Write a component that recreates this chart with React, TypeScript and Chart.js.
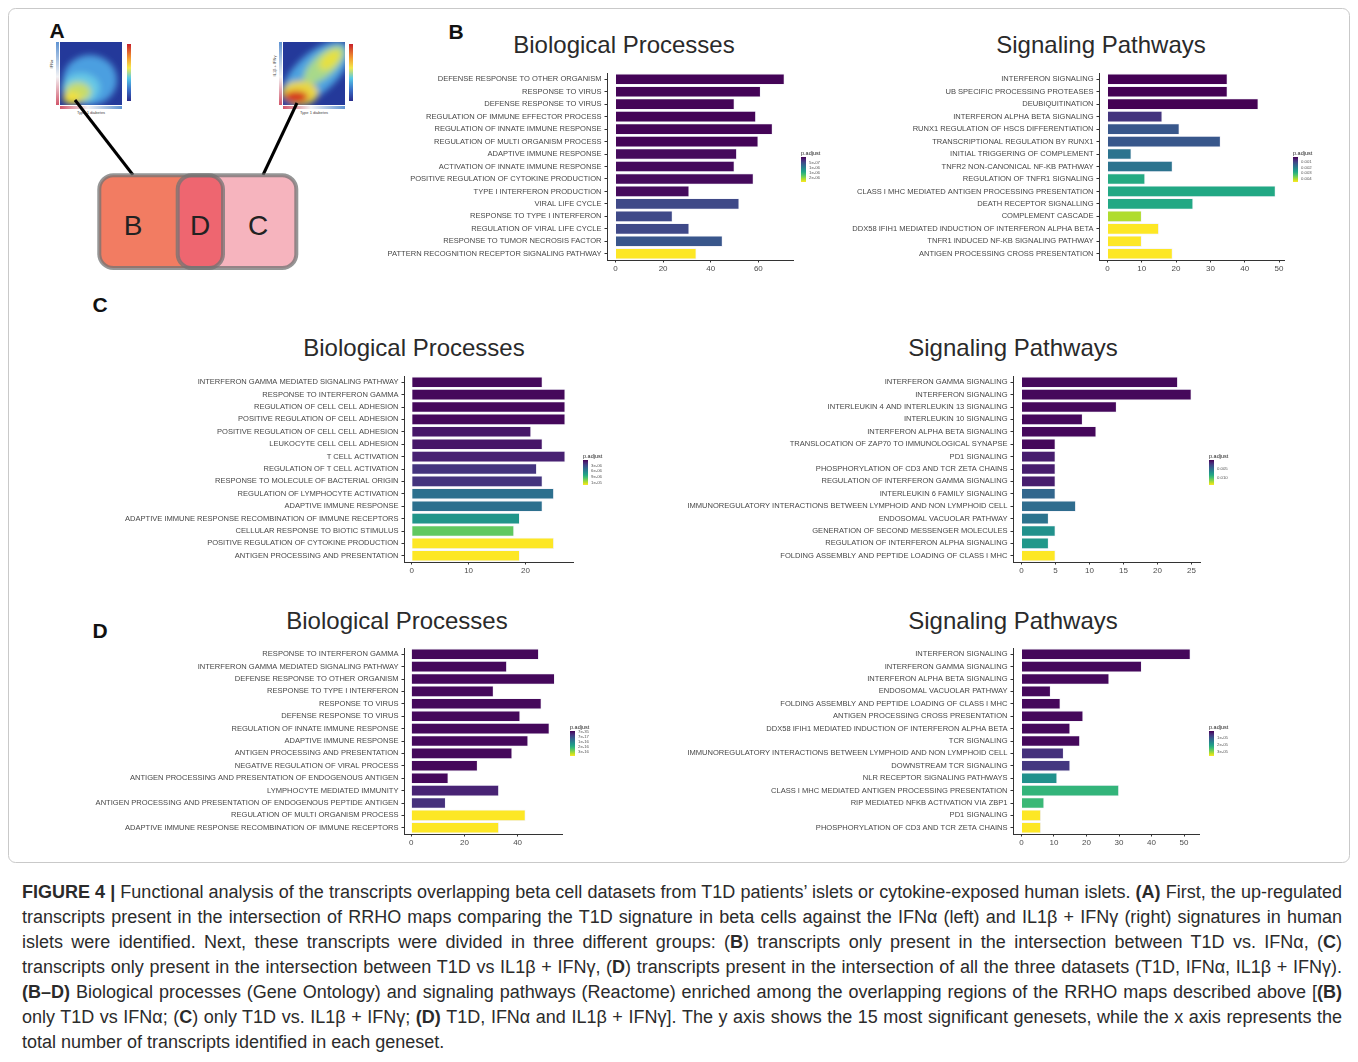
import React, { useEffect, useRef } from "react";
import { Chart, registerables } from "chart.js";
Chart.register(...registerables);

const FONT = "'Liberation Sans', Arial, Helvetica, sans-serif";

// ---------- Panel B : T1D vs IFNa only ----------
const bBpLabels = [
  "DEFENSE RESPONSE TO OTHER ORGANISM",
  "RESPONSE TO VIRUS",
  "DEFENSE RESPONSE TO VIRUS",
  "REGULATION OF IMMUNE EFFECTOR PROCESS",
  "REGULATION OF INNATE IMMUNE RESPONSE",
  "REGULATION OF MULTI ORGANISM PROCESS",
  "ADAPTIVE IMMUNE RESPONSE",
  "ACTIVATION OF INNATE IMMUNE RESPONSE",
  "POSITIVE REGULATION OF CYTOKINE PRODUCTION",
  "TYPE I INTERFERON PRODUCTION",
  "VIRAL LIFE CYCLE",
  "RESPONSE TO TYPE I INTERFERON",
  "REGULATION OF VIRAL LIFE CYCLE",
  "RESPONSE TO TUMOR NECROSIS FACTOR",
  "PATTERN RECOGNITION RECEPTOR SIGNALING PATHWAY",
];
const bBpCounts = [71, 61, 50, 59, 66, 60, 51, 50, 58, 31, 52, 24, 31, 45, 34];
const bBpPadj = [2e-8, 2e-8, 2e-8, 2e-8, 2e-8, 2e-8, 6e-8, 6e-8, 6e-8, 6e-8, 5.2e-7, 5.2e-7, 5.2e-7, 6.4e-7, 2.4e-6];
const bBpDomain = [0, 2.4e-6];
const bBpLegendVals = [5e-7, 1e-6, 1.5e-6, 2e-6];
const bBpLegendText = ["5e-07", "1e-06", "1e-06", "2e-06"];
const bBpTicks = [0, 20, 40, 60];

const bSpLabels = [
  "INTERFERON SIGNALING",
  "UB SPECIFIC PROCESSING PROTEASES",
  "DEUBIQUITINATION",
  "INTERFERON ALPHA BETA SIGNALING",
  "RUNX1 REGULATION OF HSCS DIFFERENTIATION",
  "TRANSCRIPTIONAL REGULATION BY RUNX1",
  "INITIAL TRIGGERING OF COMPLEMENT",
  "TNFR2 NON-CANONICAL NF-KB PATHWAY",
  "REGULATION OF TNFR1 SIGNALING",
  "CLASS I MHC MEDIATED ANTIGEN PROCESSING PRESENTATION",
  "DEATH RECEPTOR SIGNALLING",
  "COMPLEMENT CASCADE",
  "DDX58 IFIH1 MEDIATED INDUCTION OF INTERFERON ALPHA BETA",
  "TNFR1 INDUCED NF-KB SIGNALING PATHWAY",
  "ANTIGEN PROCESSING CROSS PRESENTATION",
];
const bSpCounts = [35, 35, 44, 16, 21, 33, 7, 19, 11, 49, 25, 10, 15, 10, 19];
const bSpPadj = [1e-4, 1e-4, 1e-4, 8e-4, 1.35e-3, 1.35e-3, 1.85e-3, 1.85e-3, 2.9e-3, 2.85e-3, 2.85e-3, 4.15e-3, 4.7e-3, 4.7e-3, 4.7e-3];
const bSpDomain = [1e-4, 4.7e-3];
const bSpLegendVals = [0.001, 0.002, 0.003, 0.004];
const bSpLegendText = ["0.001", "0.002", "0.003", "0.004"];
const bSpTicks = [0, 10, 20, 30, 40, 50];

// ---------- Panel C : T1D vs IL1b + IFNg only ----------
const cBpLabels = [
  "INTERFERON GAMMA MEDIATED SIGNALING PATHWAY",
  "RESPONSE TO INTERFERON GAMMA",
  "REGULATION OF CELL CELL ADHESION",
  "POSITIVE REGULATION OF CELL ADHESION",
  "POSITIVE REGULATION OF CELL CELL ADHESION",
  "LEUKOCYTE CELL CELL ADHESION",
  "T CELL ACTIVATION",
  "REGULATION OF T CELL ACTIVATION",
  "RESPONSE TO MOLECULE OF BACTERIAL ORIGIN",
  "REGULATION OF LYMPHOCYTE ACTIVATION",
  "ADAPTIVE IMMUNE RESPONSE",
  "ADAPTIVE IMMUNE RESPONSE RECOMBINATION OF IMMUNE RECEPTORS",
  "CELLULAR RESPONSE TO BIOTIC STIMULUS",
  "POSITIVE REGULATION OF CYTOKINE PRODUCTION",
  "ANTIGEN PROCESSING AND PRESENTATION",
];
const cBpCounts = [23, 27, 27, 27, 21, 23, 27, 22, 23, 25, 23, 19, 18, 25, 19];
const cBpPadj = [4.7e-7, 4.7e-7, 4.7e-7, 4.7e-7, 1.0e-6, 1.0e-6, 1.4e-6, 2.2e-6, 2.2e-6, 5.1e-6, 5.1e-6, 7.1e-6, 1.02e-5, 1.35e-5, 1.35e-5];
const cBpDomain = [2e-7, 1.35e-5];
const cBpLegendVals = [3e-6, 6e-6, 9e-6, 1.2e-5];
const cBpLegendText = ["3e-06", "6e-06", "9e-06", "1e-05"];
const cBpTicks = [0, 10, 20];

const cSpLabels = [
  "INTERFERON GAMMA SIGNALING",
  "INTERFERON SIGNALING",
  "INTERLEUKIN 4 AND INTERLEUKIN 13 SIGNALING",
  "INTERLEUKIN 10 SIGNALING",
  "INTERFERON ALPHA BETA SIGNALING",
  "TRANSLOCATION OF ZAP70 TO IMMUNOLOGICAL SYNAPSE",
  "PD1 SIGNALING",
  "PHOSPHORYLATION OF CD3 AND TCR ZETA CHAINS",
  "REGULATION OF INTERFERON GAMMA SIGNALING",
  "INTERLEUKIN 6 FAMILY SIGNALING",
  "IMMUNOREGULATORY INTERACTIONS BETWEEN LYMPHOID AND NON LYMPHOID CELL",
  "ENDOSOMAL VACUOLAR PATHWAY",
  "GENERATION OF SECOND MESSENGER MOLECULES",
  "REGULATION OF INTERFERON ALPHA SIGNALING",
  "FOLDING ASSEMBLY AND PEPTIDE LOADING OF CLASS I MHC",
];
const cSpCounts = [23, 25, 14, 9, 11, 5, 5, 5, 5, 5, 8, 4, 5, 4, 5];
const cSpPadj = [3.8e-4, 3.8e-4, 3.8e-4, 3.8e-4, 3.8e-4, 3.8e-4, 1.2e-3, 1.2e-3, 1.2e-3, 4.65e-3, 4.93e-3, 5.34e-3, 7.0e-3, 7.4e-3, 1.39e-2];
const cSpDomain = [1e-4, 1.39e-2];
const cSpLegendVals = [0.005, 0.01];
const cSpLegendText = ["0.005", "0.010"];
const cSpTicks = [0, 5, 10, 15, 20, 25];

// ---------- Panel D : intersection of all three ----------
const dBpLabels = [
  "RESPONSE TO INTERFERON GAMMA",
  "INTERFERON GAMMA MEDIATED SIGNALING PATHWAY",
  "DEFENSE RESPONSE TO OTHER ORGANISM",
  "RESPONSE TO TYPE I INTERFERON",
  "RESPONSE TO VIRUS",
  "DEFENSE RESPONSE TO VIRUS",
  "REGULATION OF INNATE IMMUNE RESPONSE",
  "ADAPTIVE IMMUNE RESPONSE",
  "ANTIGEN PROCESSING AND PRESENTATION",
  "NEGATIVE REGULATION OF VIRAL PROCESS",
  "ANTIGEN PROCESSING AND PRESENTATION OF ENDOGENOUS ANTIGEN",
  "LYMPHOCYTE MEDIATED IMMUNITY",
  "ANTIGEN PROCESSING AND PRESENTATION OF ENDOGENOUS PEPTIDE ANTIGEN",
  "REGULATION OF MULTI ORGANISM PROCESS",
  "ADAPTIVE IMMUNE RESPONSE RECOMBINATION OF IMMUNE RECEPTORS",
];
const dBpCounts = [48, 36, 54, 31, 49, 41, 52, 44, 38, 25, 14, 33, 13, 43, 33];
const dBpPadj = [7e-18, 7e-18, 7e-18, 7e-18, 7e-18, 7e-18, 7e-18, 7e-18, 7e-18, 7e-18, 7e-18, 3.4e-17, 4.8e-17, 3.5e-16, 3.5e-16];
const dBpDomain = [0, 3.5e-16];
const dBpLegendVals = [7e-35, 7e-17, 1.4e-16, 2.1e-16, 2.8e-16];
const dBpLegendText = ["7e-35", "7e-17", "1e-16", "2e-16", "3e-16"];
const dBpTicks = [0, 20, 40];

const dSpLabels = [
  "INTERFERON SIGNALING",
  "INTERFERON GAMMA SIGNALING",
  "INTERFERON ALPHA BETA SIGNALING",
  "ENDOSOMAL VACUOLAR PATHWAY",
  "FOLDING ASSEMBLY AND PEPTIDE LOADING OF CLASS I MHC",
  "ANTIGEN PROCESSING CROSS PRESENTATION",
  "DDX58 IFIH1 MEDIATED INDUCTION OF INTERFERON ALPHA BETA",
  "TCR SIGNALING",
  "IMMUNOREGULATORY INTERACTIONS BETWEEN LYMPHOID AND NON LYMPHOID CELL",
  "DOWNSTREAM TCR SIGNALING",
  "NLR RECEPTOR SIGNALING PATHWAYS",
  "CLASS I MHC MEDIATED ANTIGEN PROCESSING PRESENTATION",
  "RIP MEDIATED NFKB ACTIVATION VIA ZBP1",
  "PD1 SIGNALING",
  "PHOSPHORYLATION OF CD3 AND TCR ZETA CHAINS",
];
const dSpCounts = [52, 37, 27, 9, 12, 19, 15, 18, 13, 15, 11, 30, 7, 6, 6];
const dSpPadj = [7.2e-7, 7.2e-7, 7.2e-7, 7.2e-7, 7.2e-7, 7.2e-7, 7.2e-7, 7.2e-7, 5.0e-6, 5.8e-6, 1.8e-5, 2.34e-5, 2.41e-5, 3.6e-5, 3.6e-5];
const dSpDomain = [0, 3.6e-5];
const dSpLegendVals = [1e-5, 2e-5, 3e-5];
const dSpLegendText = ["1e-05", "2e-05", "3e-05"];
const dSpTicks = [0, 10, 20, 30, 40, 50];

// ---------- helpers ----------
const VIRIDIS = ["#440154", "#482475", "#414487", "#355f8d", "#2a788e", "#21918c", "#22a884", "#44bf70", "#7ad151", "#bddf26", "#fde725"];
function hex(h: string) {
  return [parseInt(h.slice(1, 3), 16), parseInt(h.slice(3, 5), 16), parseInt(h.slice(5, 7), 16)];
}
function viridis(t: number) {
  t = Math.max(0, Math.min(1, t));
  const x = t * 10;
  const i = Math.min(9, Math.floor(x));
  const f = x - i;
  const a = hex(VIRIDIS[i]);
  const b = hex(VIRIDIS[i + 1]);
  const c = a.map((v, k) => Math.round(v + (b[k] - v) * f));
  return `rgb(${c[0]},${c[1]},${c[2]})`;
}

type Geom = { axisX: number; plotRight: number; top: number; bottom: number; yW: number };
type PanelProps = {
  labels: string[];
  values: number[];
  padj: number[];
  domain: number[];
  ticks: number[];
  geom: Geom;
};

function BarPanel({ labels, values, padj, domain, ticks, geom }: PanelProps) {
  const ref = useRef<HTMLCanvasElement>(null);
  const padT = 10;
  const padR = 16;
  const xH = 22;
  const left = geom.axisX - geom.yW;
  const top = geom.top - padT;
  const width = geom.yW + (geom.plotRight - geom.axisX) + padR;
  const height = padT + (geom.bottom - geom.top) + xH;
  useEffect(() => {
    const max = Math.max(...values);
    const colors = padj.map((v) => viridis((v - domain[0]) / (domain[1] - domain[0])));
    const chart = new Chart(ref.current as HTMLCanvasElement, {
      type: "bar",
      data: {
        labels,
        datasets: [
          {
            data: values,
            backgroundColor: colors,
            borderColor: "rgba(225,225,240,0.55)",
            borderWidth: 0.8,
            barPercentage: 0.9,
            categoryPercentage: 1,
          },
        ],
      },
      options: {
        indexAxis: "y",
        responsive: false,
        animation: false,
        devicePixelRatio: 1,
        layout: { padding: { top: padT, right: padR, left: 0, bottom: 0 } },
        plugins: { legend: { display: false }, tooltip: { enabled: false }, title: { display: false } },
        scales: {
          x: {
            type: "linear",
            min: -0.05 * max,
            max: 1.05 * max,
            afterBuildTicks: (s: any) => {
              s.ticks = ticks.map((v) => ({ value: v }));
            },
            afterFit: (s: any) => {
              s.height = xH;
            },
            grid: { drawOnChartArea: false, drawTicks: true, tickLength: 2.5, color: "#333" },
            border: { display: true, color: "#333", width: 1 },
            ticks: { font: { family: FONT, size: 8 }, color: "#4d4d4d", padding: 1.5, maxRotation: 0 },
          },
          y: {
            type: "category",
            afterFit: (s: any) => {
              s.width = geom.yW;
            },
            grid: { drawOnChartArea: false, drawTicks: true, tickLength: 2.5, color: "#333", offset: false },
            border: { display: true, color: "#333", width: 1 },
            ticks: { autoSkip: false, font: { family: FONT, size: 7.55 }, color: "#474747", padding: 3 },
          },
        },
      },
    } as any);
    return () => chart.destroy();
  }, []);
  return (
    <canvas
      ref={ref}
      width={width}
      height={height}
      style={{ position: "absolute", left, top, width, height }}
    />
  );
}

function ColorLegend({ x, y, domain, vals, text }: { x: number; y: number; domain: number[]; vals: number[]; text: string[] }) {
  const h = 25;
  const stops = VIRIDIS.map((c, i) => `${c} ${i * 10}%`).join(",");
  return (
    <div style={{ position: "absolute", left: x, top: y - 7, fontFamily: FONT }}>
      <div style={{ fontSize: 5.5, color: "#222", lineHeight: "6px", whiteSpace: "nowrap" }}>p.adjust</div>
      <div style={{ position: "absolute", left: 0, top: 7, width: 5, height: h, background: `linear-gradient(to bottom, ${stops})` }} />
      {vals.map((v, i) => {
        const t = (v - domain[0]) / (domain[1] - domain[0]);
        return (
          <div
            key={i}
            style={{ position: "absolute", left: 8, top: 7 + t * h - 2.5, fontSize: 4.3, lineHeight: "5px", color: "#555", whiteSpace: "nowrap" }}
          >
            <span style={{ position: "absolute", left: -2.5, top: 2, width: 1.5, height: 0.6, background: "#fff" }} />
            {text[i]}
          </div>
        );
      })}
    </div>
  );
}

function Title({ x, y, text }: { x: number; y: number; text: string }) {
  return (
    <div
      style={{
        position: "absolute",
        left: x,
        top: y - 14,
        transform: "translateX(-50%)",
        fontFamily: FONT,
        fontSize: 24,
        lineHeight: "28px",
        color: "#2a2a2a",
        whiteSpace: "nowrap",
      }}
    >
      {text}
    </div>
  );
}

function PanelA() {
  return (
    <svg width={1358} height={1062} style={{ position: "absolute", left: 0, top: 0 }}>
      <defs>
        <filter id="bl" x="-30%" y="-30%" width="160%" height="160%">
          <feGaussianBlur stdDeviation="3.2" />
        </filter>
        <clipPath id="hm1">
          <rect x="60" y="42" width="62" height="63" />
        </clipPath>
        <clipPath id="hm2">
          <rect x="283" y="42" width="62" height="63" />
        </clipPath>
        <linearGradient id="cbar" x1="0" y1="0" x2="0" y2="1">
          <stop offset="0" stopColor="#c8202a" />
          <stop offset="0.25" stopColor="#f39c30" />
          <stop offset="0.42" stopColor="#f4e84a" />
          <stop offset="0.6" stopColor="#55c8e8" />
          <stop offset="0.8" stopColor="#3a70c8" />
          <stop offset="1" stopColor="#2a2d8c" />
        </linearGradient>
        <linearGradient id="vstrip" x1="0" y1="0" x2="0" y2="1">
          <stop offset="0" stopColor="#5f93d2" />
          <stop offset="0.55" stopColor="#f2f2f4" />
          <stop offset="1" stopColor="#d2566a" />
        </linearGradient>
        <linearGradient id="hstrip" x1="0" y1="0" x2="1" y2="0">
          <stop offset="0" stopColor="#d2566a" />
          <stop offset="0.45" stopColor="#f2f2f4" />
          <stop offset="1" stopColor="#5f93d2" />
        </linearGradient>
      </defs>

      {/* figure frame */}
      <rect x={8.5} y={8.5} width={1341} height={854} rx={7} fill="none" stroke="#c9c9c9" strokeWidth={1} />

      {/* panel letters */}
      <g fontFamily={FONT} fontWeight="bold" fontSize={21} fill="#111" textAnchor="middle">
        <text x={57} y={38}>A</text>
        <text x={456} y={39}>B</text>
        <text x={100} y={312}>C</text>
        <text x={100} y={638}>D</text>
      </g>

      {/* RRHO map 1 */}
      <g clipPath="url(#hm1)">
        <rect x="60" y="42" width="62" height="63" fill="#24399a" />
        <g filter="url(#bl)">
          <ellipse cx="90" cy="80" rx="27" ry="25" fill="#4c9fe0" />
          <ellipse cx="81" cy="88" rx="19" ry="15" fill="#66c8e6" />
          <ellipse cx="78" cy="92" rx="13" ry="10" fill="#c6dc6a" />
          <ellipse cx="72" cy="98" rx="9" ry="6" fill="#f2e03a" />
        </g>
      </g>
      <rect x="56" y="42" width="3" height="63" fill="url(#vstrip)" />
      <rect x="60" y="106" width="62" height="3" fill="url(#hstrip)" />
      <rect x="127" y="44" width="4" height="57" fill="url(#cbar)" />
      <text x="91" y="114" fontSize="4" fontFamily={FONT} fill="#444" textAnchor="middle">Type 1 diabetes</text>
      <text x="0" y="0" fontSize="4" fontFamily={FONT} fill="#444" textAnchor="middle" transform="translate(53,64) rotate(-90)">IFNα</text>

      {/* RRHO map 2 */}
      <g clipPath="url(#hm2)">
        <rect x="283" y="42" width="62" height="63" fill="#24399a" />
        <g filter="url(#bl)">
          <ellipse cx="316" cy="73" rx="42" ry="20" fill="#4ea3e0" transform="rotate(-42 316 73)" />
          <ellipse cx="324" cy="65" rx="26" ry="11" fill="#a8d98a" transform="rotate(-42 324 65)" />
          <ellipse cx="330" cy="60" rx="13" ry="7" fill="#e6e040" transform="rotate(-42 330 60)" />
          <ellipse cx="300" cy="93" rx="18" ry="12" fill="#e9d640" />
          <ellipse cx="296" cy="97" rx="12" ry="6" fill="#d42a1f" />
        </g>
      </g>
      <rect x="279" y="42" width="3" height="63" fill="url(#vstrip)" />
      <rect x="283" y="106" width="62" height="3" fill="url(#hstrip)" />
      <rect x="349" y="44" width="4" height="57" fill="url(#cbar)" />
      <text x="314" y="114" fontSize="4" fontFamily={FONT} fill="#444" textAnchor="middle">Type 1 diabetes</text>
      <text x="0" y="0" fontSize="4" fontFamily={FONT} fill="#444" textAnchor="middle" transform="translate(276,66) rotate(-90)">IL1β + IFNγ</text>

      {/* connector lines */}
      <line x1="75" y1="100" x2="133" y2="175" stroke="#000" strokeWidth="3" />
      <line x1="297" y1="103" x2="263" y2="175" stroke="#000" strokeWidth="3" />

      {/* Venn-like boxes */}
      <rect x="99.3" y="175.3" width="123.7" height="92.7" rx="14" fill="#f27c62" />
      <rect x="177.7" y="175.3" width="118.6" height="92.7" rx="14" fill="#f6b4be" />
      <rect x="177.7" y="175.3" width="45.3" height="92.7" rx="14" fill="#ee6670" />
      <rect x="99.3" y="175.3" width="123.7" height="92.7" rx="14" fill="none" stroke="rgba(115,115,115,0.75)" strokeWidth="4" />
      <rect x="177.7" y="175.3" width="118.6" height="92.7" rx="14" fill="none" stroke="rgba(115,115,115,0.75)" strokeWidth="4" />
      <g fontFamily={FONT} fontSize={28} fill="#222" textAnchor="middle">
        <text x={133} y={235}>B</text>
        <text x={200} y={235}>D</text>
        <text x={258} y={235}>C</text>
      </g>
    </svg>
  );
}

function Caption() {
  const b = (t: string) => <b>{t}</b>;
  const lines: React.ReactNode[] = [
    <>{b("FIGURE 4 |")} Functional analysis of the transcripts overlapping beta cell datasets from T1D patients’ islets or cytokine-exposed human islets. {b("(A)")} First, the up-regulated</>,
    <>transcripts present in the intersection of RRHO maps comparing the T1D signature in beta cells against the IFNα (left) and IL1β + IFNγ (right) signatures in human</>,
    <>islets were identified. Next, these transcripts were divided in three different groups: ({b("B")}) transcripts only present in the intersection between T1D vs. IFNα, ({b("C")})</>,
    <>transcripts only present in the intersection between T1D vs IL1β + IFNγ, ({b("D")}) transcripts present in the intersection of all the three datasets (T1D, IFNα, IL1β + IFNγ).</>,
    <>{b("(B–D)")} Biological processes (Gene Ontology) and signaling pathways (Reactome) enriched among the overlapping regions of the RRHO maps described above [{b("(B)")}</>,
    <>only T1D vs IFNα; ({b("C")}) only T1D vs. IL1β + IFNγ; {b("(D)")} T1D, IFNα and IL1β + IFNγ]. The y axis shows the 15 most significant genesets, while the x axis represents the</>,
    <>total number of transcripts identified in each geneset.</>,
  ];
  return (
    <div style={{ position: "absolute", left: 22, top: 879.5, width: 1320, fontFamily: FONT, fontSize: 18, color: "#2b2b2b" }}>
      {lines.map((content, i) => (
        <div
          key={i}
          style={{
            height: 25.17,
            lineHeight: "25.17px",
            whiteSpace: "nowrap",
            width: 1320,
            textAlign: i < lines.length - 1 ? "justify" : "left",
            textAlignLast: i < lines.length - 1 ? "justify" : "left",
          } as any}
        >
          {content}
        </div>
      ))}
    </div>
  );
}

export default function App() {
  return (
    <div style={{ position: "absolute", left: 0, top: 0, width: 1358, height: 1062, background: "#fff", overflow: "hidden" }}>
      <PanelA />
      <Title x={624} y={45} text="Biological Processes" />
      <Title x={1101} y={45} text="Signaling Pathways" />
      <Title x={414} y={348} text="Biological Processes" />
      <Title x={1013} y={348} text="Signaling Pathways" />
      <Title x={397} y={621} text="Biological Processes" />
      <Title x={1013} y={621} text="Signaling Pathways" />

      <BarPanel labels={bBpLabels} values={bBpCounts} padj={bBpPadj} domain={bBpDomain} ticks={bBpTicks}
        geom={{ axisX: 607, plotRight: 793, top: 72.5, bottom: 259.5, yW: 230 }} />
      <BarPanel labels={bSpLabels} values={bSpCounts} padj={bSpPadj} domain={bSpDomain} ticks={bSpTicks}
        geom={{ axisX: 1099, plotRight: 1284, top: 72.5, bottom: 259.5, yW: 260 }} />
      <BarPanel labels={cBpLabels} values={cBpCounts} padj={cBpPadj} domain={cBpDomain} ticks={cBpTicks}
        geom={{ axisX: 404, plotRight: 573, top: 376, bottom: 562, yW: 300 }} />
      <BarPanel labels={cSpLabels} values={cSpCounts} padj={cSpPadj} domain={cSpDomain} ticks={cSpTicks}
        geom={{ axisX: 1013, plotRight: 1200, top: 376, bottom: 562, yW: 340 }} />
      <BarPanel labels={dBpLabels} values={dBpCounts} padj={dBpPadj} domain={dBpDomain} ticks={dBpTicks}
        geom={{ axisX: 404, plotRight: 562, top: 648, bottom: 834, yW: 320 }} />
      <BarPanel labels={dSpLabels} values={dSpCounts} padj={dSpPadj} domain={dSpDomain} ticks={dSpTicks}
        geom={{ axisX: 1013, plotRight: 1199, top: 648, bottom: 834, yW: 340 }} />

      <ColorLegend x={801} y={157} domain={bBpDomain} vals={bBpLegendVals} text={bBpLegendText} />
      <ColorLegend x={1293} y={157} domain={bSpDomain} vals={bSpLegendVals} text={bSpLegendText} />
      <ColorLegend x={583} y={460} domain={cBpDomain} vals={cBpLegendVals} text={cBpLegendText} />
      <ColorLegend x={1209} y={460} domain={cSpDomain} vals={cSpLegendVals} text={cSpLegendText} />
      <ColorLegend x={570} y={731} domain={dBpDomain} vals={dBpLegendVals} text={dBpLegendText} />
      <ColorLegend x={1209} y={731} domain={dSpDomain} vals={dSpLegendVals} text={dSpLegendText} />

      <Caption />
    </div>
  );
}
